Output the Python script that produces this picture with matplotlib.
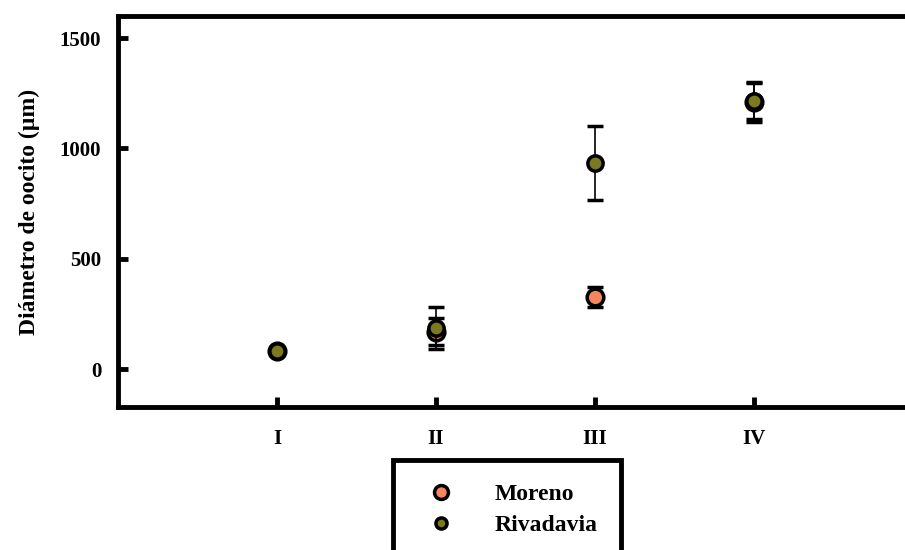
import numpy as np
import matplotlib
matplotlib.use("Agg")
from matplotlib import pyplot as plt
from matplotlib.lines import Line2D

plt.rcParams['font.family'] = ['Liberation Serif', 'DejaVu Serif']
plt.rcParams['font.weight'] = 'bold'

estadios = ['I', 'II', 'III', 'IV']
moreno = [80, 170, 325, 1210]
moreno_err = [10, 60, 45, 90]
rivadavia = [80, 185, 935, 1215]
rivadavia_err = [10, 95, 168, 80]

col_moreno = '#f5875e'
col_riva = '#7b7a1e'

x = np.arange(1, len(estadios) + 1)

fig = plt.figure(figsize=(9.05, 5.5), dpi=100)
ax = fig.add_axes([118/905, 1-407/550, 795/905, 391/550])

ax.errorbar(x, moreno, yerr=moreno_err, fmt='o', color='black', ecolor='black',
            mfc=col_moreno, mec='black', mew=2.5, ms=12, capsize=6, elinewidth=1.2,
            capthick=1.5, zorder=3)
ax.errorbar(x, rivadavia, yerr=rivadavia_err, fmt='o', color='black', ecolor='black',
            mfc=col_riva, mec='black', mew=2.5, ms=11, capsize=6, elinewidth=1.2,
            capthick=1.5, zorder=4)

ax.set_xlim(0, 5)
ax.set_ylim(-172, 1600)
ax.set_xticks(x)
ax.set_xticklabels(estadios)
ax.set_yticks([0, 500, 1000, 1500])
ax.tick_params(direction='in', length=7, width=3.5, labelsize=15)
ax.tick_params(axis='x', pad=16)
ax.tick_params(axis='y', pad=12)
for s in ax.spines.values():
    s.set_linewidth(3.5)
ax.set_ylabel('Diámetro de oocito (µm)', fontsize=17, fontweight='bold', labelpad=14)

# leyenda solo con los marcadores
h1 = Line2D([], [], ls='none', marker='o', mfc=col_moreno, mec='black', mew=2.5, ms=10)
h2 = Line2D([], [], ls='none', marker='o', mfc=col_riva, mec='black', mew=2.5, ms=8)
leg = fig.legend([h1, h2], ['Moreno', 'Rivadavia'], loc='upper left',
                 bbox_to_anchor=(393/905, 1-460/550),
                 fontsize=17, frameon=True, fancybox=False, edgecolor='black',
                 framealpha=1, borderpad=1.0, labelspacing=0.4, handletextpad=1.2,
                 borderaxespad=0, handlelength=2.1)
leg.get_frame().set_linewidth(3.5)

fig.savefig('out.png', dpi=100)
